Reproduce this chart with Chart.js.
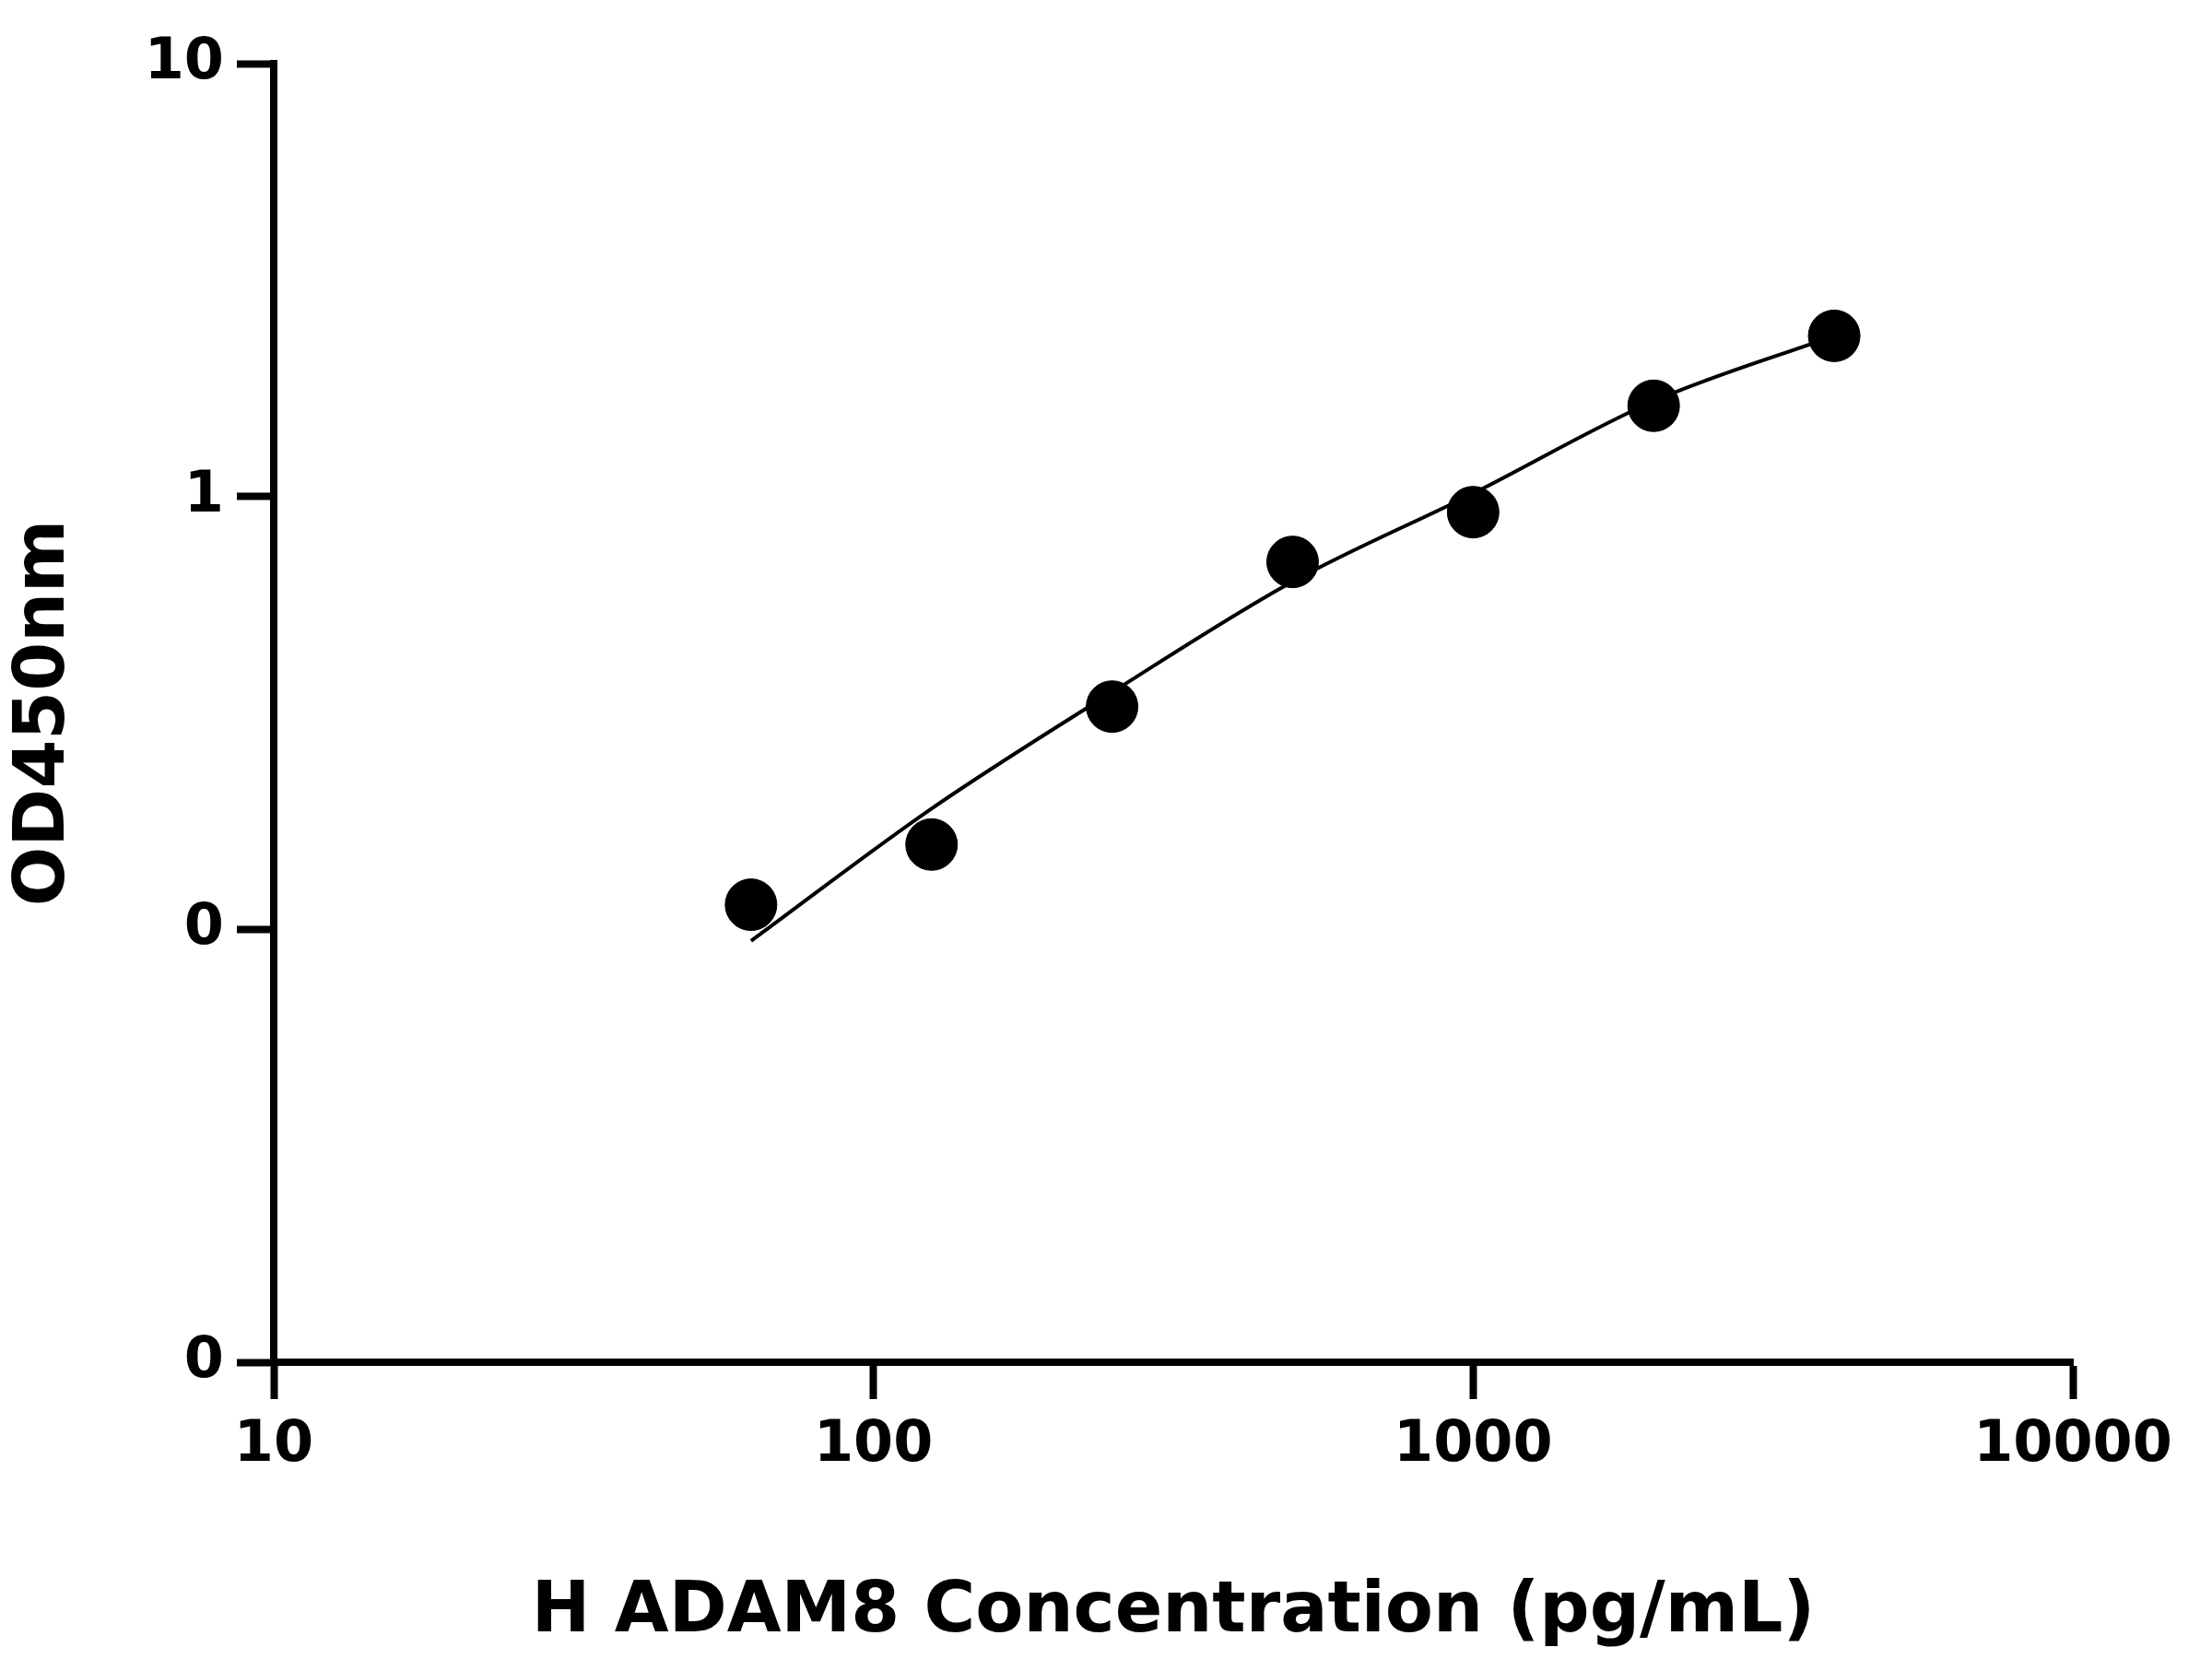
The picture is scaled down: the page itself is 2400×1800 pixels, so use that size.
<!DOCTYPE html>
<html>
<head>
<meta charset="utf-8">
<script src="https://cdn.jsdelivr.net/npm/chart.js@4"></script>
<style>
  html, body { margin: 0; padding: 0; background: #fff; }
  #wrap { width: 2400px; height: 1800px; }
</style>
</head>
<body>
<div id="wrap"><canvas id="c" width="2400" height="1800"></canvas></div>
<script>
// standard points
const concentrations = [62.5, 125, 250, 500, 1000, 2000, 4000];
const odValues = [0.114, 0.157, 0.327, 0.706, 0.92, 1.62, 2.35];
// fitted curve
const fitX = [62.5, 125, 250, 500, 1000, 2000, 4000];
const fitY = [0.094, 0.19, 0.353, 0.636, 1.016, 1.66, 2.35];
// tick labels as printed
const xTicks = [10, 100, 1000, 10000];
const xTickLabels = ['10', '100', '1000', '10000'];
const yTicks = [0.01, 0.1, 1, 10];
const yTickLabels = ['0', '0', '1', '10'];

const font = 'DejaVu Sans';
const black = '#000';

new Chart(document.getElementById('c'), {
  type: 'scatter',
  data: {
    datasets: [
      {
        type: 'line',
        data: fitX.map((x, i) => ({ x, y: fitY[i] })),
        borderColor: black,
        borderWidth: 4,
        pointRadius: 0,
        cubicInterpolationMode: 'monotone',
        fill: false,
      },
      {
        data: concentrations.map((x, i) => ({ x, y: odValues[i] })),
        backgroundColor: black,
        borderColor: black,
        pointRadius: 28,
      },
    ],
  },
  options: {
    responsive: false,
    devicePixelRatio: 1,
    animation: false,
    layout: { padding: { top: 69, right: 151, left: 0, bottom: 0 } },
    plugins: { legend: { display: false }, tooltip: { enabled: false } },
    scales: {
      x: {
        type: 'logarithmic',
        min: 10,
        max: 10000,
        afterBuildTicks: (s) => { s.ticks = xTicks.map((v) => ({ value: v })); },
        afterFit: (s) => { s.height = 322; },
        ticks: {
          callback: (v) => xTickLabels[xTicks.indexOf(v)] ?? '',
          color: black,
          font: { family: font, size: 62, weight: 'bold' },
          padding: 14,
          maxRotation: 0,
        },
        grid: { drawOnChartArea: false, tickLength: 40, tickWidth: 8, tickColor: black },
        border: { color: black, width: 8 },
        title: {
          display: true,
          text: 'H ADAM8 Concentration (pg/mL)',
          color: black,
          font: { family: font, size: 76, weight: 'bold' },
          padding: { top: 40 },
        },
      },
      y: {
        type: 'logarithmic',
        min: 0.01,
        max: 10,
        afterBuildTicks: (s) => { s.ticks = yTicks.map((v) => ({ value: v })); },
        afterFit: (s) => { s.width = 297; },
        ticks: {
          callback: (v) => yTickLabels[yTicks.indexOf(v)] ?? '',
          color: black,
          font: { family: font, size: 62, weight: 'bold' },
          padding: 14,
        },
        grid: { drawOnChartArea: false, tickLength: 40, tickWidth: 8, tickColor: black },
        border: { color: black, width: 8 },
        title: {
          display: true,
          text: 'OD450nm',
          color: black,
          font: { family: font, size: 76, weight: 'bold' },
          padding: { bottom: 40 },
        },
      },
    },
  },
});
</script>
</body>
</html>
